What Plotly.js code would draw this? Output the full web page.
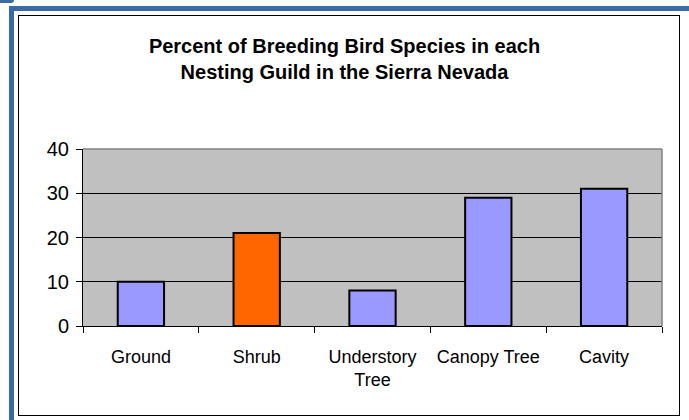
<!DOCTYPE html>
<html>
<head>
<meta charset="utf-8">
<script src="https://cdn.plot.ly/plotly-3.0.1.min.js"></script>
<style>
  html, body { margin: 0; padding: 0; background: #ffffff; }
  #wrap { position: relative; width: 689px; height: 420px; overflow: hidden; }
  .blue { position: absolute; background: #3A6CA3; }
  #box { position: absolute; left: 18px; top: 15px; width: 662px; height: 401px; border: 1.5px solid #000; box-sizing: border-box; }
  #chart { position: absolute; left: 0; top: 0; width: 689px; height: 420px; }
</style>
</head>
<body>
<div id="wrap">
  <div class="blue" style="left:9px; top:6px; width:5px; height:414px;"></div>
  <div class="blue" style="left:9px; top:6px; width:680px; height:5px;"></div>
  <div class="blue" style="left:0px; top:0px; width:14px; height:3px; border-radius:0 0 8px 0;"></div>
  <div id="box"></div>
  <div id="chart"></div>
</div>
<script>
const categories = ["Ground", "Shrub", "Understory<br>Tree", "Canopy Tree", "Cavity"];
const percentValues = [10, 21, 8, 29, 31];
const barColors = ["#9999FF", "#FF6600", "#9999FF", "#9999FF", "#9999FF"];
const yTickValues = [0, 10, 20, 30, 40];
const chartTitle = "Percent of Breeding Bird Species in each<br>Nesting Guild in the Sierra Nevada";

const fontFam = "'Liberation Sans', Arial, sans-serif";

const trace = {
  type: "bar",
  x: categories,
  y: percentValues,
  marker: { color: barColors, line: { color: "#000000", width: 2 } },
  hoverinfo: "x+y"
};

const layout = {
  width: 689,
  height: 420,
  margin: { l: 83, r: 27, t: 149, b: 94, pad: 0 },
  paper_bgcolor: "rgba(0,0,0,0)",
  plot_bgcolor: "#C0C0C0",
  bargap: 0.6,
  showlegend: false,
  font: { family: fontFam, color: "#000000" },
  title: {
    text: chartTitle,
    font: { family: fontFam, size: 20, color: "#000000", weight: "bold" },
    x: 0.5, xref: "container", xanchor: "center",
    y: 1 - 53 / 420, yref: "container", yanchor: "top"
  },
  xaxis: {
    type: "category",
    showline: true, linecolor: "#000000", linewidth: 1,
    ticks: "outside", tickson: "boundaries", ticklen: 6, tickcolor: "#000000", tickwidth: 1,
    tickfont: { family: fontFam, size: 18, color: "#000000" },
    ticklabelstandoff: 14,
    showgrid: false, zeroline: false, fixedrange: true
  },
  yaxis: {
    range: [0, 40],
    tickvals: yTickValues,
    showline: true, linecolor: "#000000", linewidth: 1,
    ticks: "outside", ticklen: 6, tickcolor: "#000000", tickwidth: 1,
    tickfont: { family: fontFam, size: 20, color: "#000000" },
    ticklabelstandoff: 3,
    showgrid: true, gridcolor: "#000000", gridwidth: 1,
    zeroline: false, fixedrange: true
  },
  shapes: [
    { type: "line", xref: "paper", yref: "paper", x0: 0, x1: 1, y0: 1, y1: 1, line: { color: "#808080", width: 1.5 }, layer: "above" },
    { type: "line", xref: "paper", yref: "paper", x0: 1, x1: 1, y0: 0, y1: 1, line: { color: "#808080", width: 1.5 }, layer: "above" }
  ]
};

Plotly.newPlot("chart", [trace], layout, { displayModeBar: false, staticPlot: true });
</script>
</body>
</html>
